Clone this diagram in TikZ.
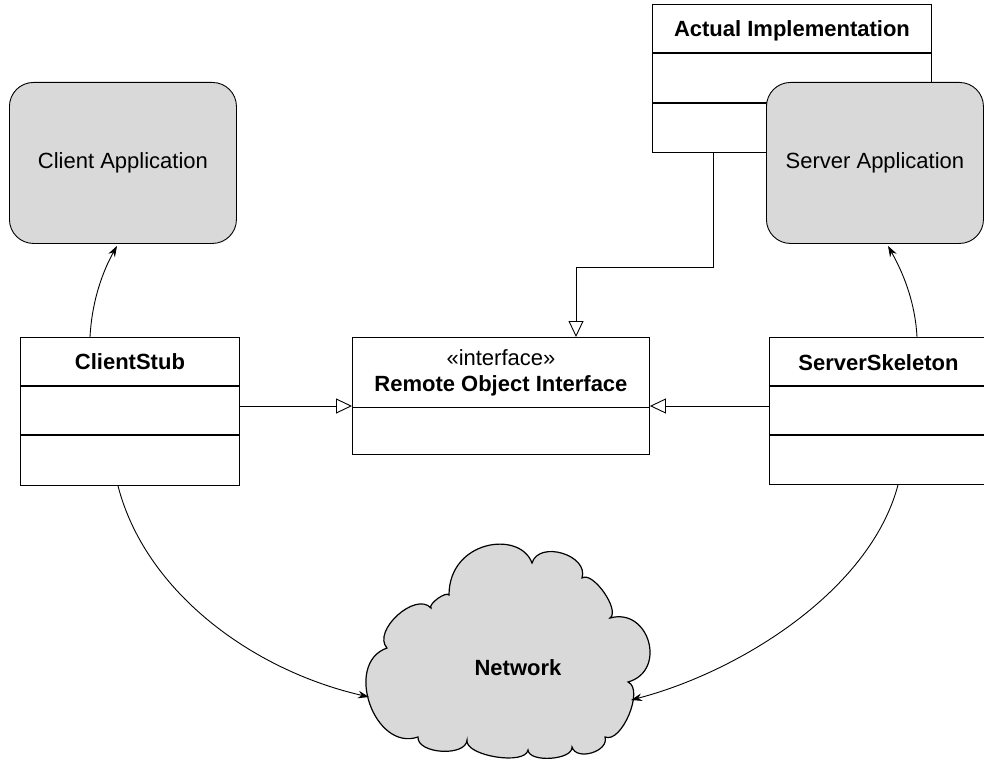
\documentclass[tikz,border=0pt]{standalone}
\usepackage{fontspec}
\setmainfont{Liberation Sans}
\usetikzlibrary{arrows.meta,calc}
\definecolor{appgray}{HTML}{D9D9D9}
\begin{document}
\begin{tikzpicture}[x=1pt,y=-1pt,
  box/.style={draw,line width=0.9pt,fill=white,inner sep=0pt,anchor=north west},
  app/.style={draw,line width=0.9pt,fill=appgray,rounded corners=24pt,inner sep=0pt,anchor=north west,font=\fontsize{22}{26}\selectfont},
  divider/.style={line width=1.4pt},
  txt/.style={font=\fontsize{22}{26}\selectfont,inner sep=0pt,anchor=base},
  btxt/.style={font=\fontsize{22}{26}\selectfont\bfseries,inner sep=0pt,anchor=base},
  cloudst/.style={draw,fill=appgray,line width=1.2pt},
  arr/.style={line width=0.9pt,-{Stealth[length=11pt,width=7.5pt]}},
  gen/.style={line width=0.9pt,-{Triangle[open,length=16pt,width=15pt,fill=white]}}]
\useasboundingbox (0,0) rectangle (984,759);

% Actual Implementation
\node[box,minimum width=279pt,minimum height=148pt] (impl) at (652,4) {};
\draw[divider] ($(impl.north west)+(0,49)$) -- ($(impl.north east)+(0,49)$);
\draw[divider] ($(impl.north west)+(0,99)$) -- ($(impl.north east)+(0,99)$);
\node[btxt] (implt) at ($(impl.north)+(0,33)$) {Actual Implementation};

% Applications
\node[app,minimum width=227pt,minimum height=161pt] (capp) at (9,82) {Client Application};
\node[app,minimum width=217pt,minimum height=161pt] (sapp) at (766,82) {Server Application};

% ClientStub
\node[box,minimum width=219pt,minimum height=148pt] (cs) at (20,337) {};
\draw[divider] ($(cs.north west)+(0,49)$) -- ($(cs.north east)+(0,49)$);
\draw[divider] ($(cs.north west)+(0,98)$) -- ($(cs.north east)+(0,98)$);
\node[btxt] (cst) at ($(cs.north)+(0,32)$) {ClientStub};

% ServerSkeleton
\node[box,minimum width=218pt,minimum height=147pt] (ss) at (769,337) {};
\draw[divider] ($(ss.north west)+(0,49)$) -- ($(ss.north east)+(0,49)$);
\draw[divider] ($(ss.north west)+(0,98)$) -- ($(ss.north east)+(0,98)$);
\node[btxt] (sst) at ($(ss.north)+(0,33)$) {ServerSkeleton};

% Interface
\node[box,minimum width=297pt,minimum height=117pt] (iface) at (352,337) {};
\draw[line width=0.9pt] ($(iface.north west)+(0,70)$) -- ($(iface.north east)+(0,70)$);
\node[txt] (ster) at ($(iface.north)+(0,28)$) {«interface»};
\node[btxt] (ifn) at ($(iface.north)+(0,54)$) {Remote Object Interface};

% Network cloud
\draw[cloudst] (449,595)
  .. controls (449,540) and (520,530) .. (532,563)
  .. controls (539,540) and (589,555) .. (582,578)
  .. controls (592.7,570.6) and (620.7,610.6) .. (610,618)
  .. controls (649.4,607) and (667.4,671) .. (628,682)
  .. controls (644.6,689) and (621.6,744) .. (605,737)
  .. controls (609.4,751.4) and (576.4,761.4) .. (572,747)
  .. controls (573,760) and (529,763) .. (528,750)
  .. controls (525.4,765.8) and (464.4,755.8) .. (467,740)
  .. controls (466,757) and (417,754) .. (418,737)
  .. controls (374.3,752) and (343.3,663.2) .. (387,648)
  .. controls (371.6,631) and (415.6,591) .. (431,608)
  .. controls (428,604) and (446,591) .. cycle;
\node[btxt] (net) at (518,675) {Network};
\coordinate (netL) at (369,697);
\coordinate (netR) at (631,700);

% Generalizations
\draw[gen] ($(cs.north east)+(0,69)$) -- ($(iface.north west)+(0,69)$);
\draw[gen] ($(ss.north west)+(0,69)$) -- ($(iface.north east)+(0,69)$);
\draw[gen] ($(impl.south west)+(61,0)$) |- ($(iface.north west)+(224,-70)$) -- ($(iface.north west)+(224,0)$);

% Dependency arrows
\draw[arr] ($(cs.north west)+(70,0)$) .. controls +(2,-37) and +(-14,25) .. ($(capp.south west)+(108,2)$);
\draw[arr] ($(ss.north west)+(148,0)$) .. controls +(-2,-37) and +(14,25) .. ($(sapp.south west)+(122,2)$);
\draw[arr] ($(cs.south west)+(98,0)$) .. controls +(27,105) and +(-118,-27) .. (netL);
\draw[arr] ($(ss.south west)+(129,0)$) .. controls +(-28,106) and +(108,-28) .. (netR);
\end{tikzpicture}
\end{document}
